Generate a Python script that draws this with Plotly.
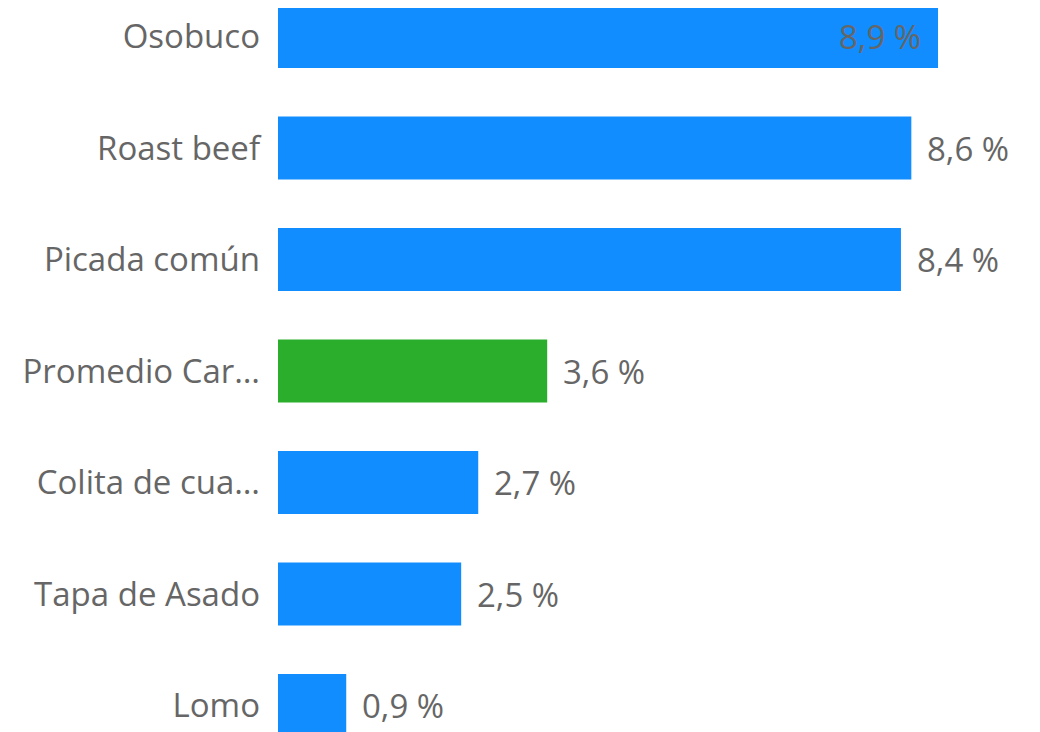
import plotly.graph_objects as go

categories = ["Osobuco", "Roast beef", "Picada común", "Promedio Car…",
              "Colita de cua…", "Tapa de Asado", "Lomo"]
values = [8.9, 8.54, 8.4, 3.63, 2.7, 2.47, 0.92]
labels = ["8,9 %", "8,6 %", "8,4 %", "3,6 %", "2,7 %", "2,5 %", "0,9 %"]
colors = ["#118DFF", "#118DFF", "#118DFF", "#2BAE2B", "#118DFF", "#118DFF", "#118DFF"]

FONT = "Open Sans"
TXT = "#666666"
FS = 33
XMAX = 10.275

pos = list(range(len(categories)))

fig = go.Figure(go.Bar(
    x=values, y=pos, orientation="h",
    marker=dict(color=colors, line=dict(width=0)),
    width=0.565, hoverinfo="skip",
))

ann = []
for v, p, t in zip(values, pos, labels):
    inside = v > XMAX - 1.6
    ann.append(dict(
        x=v, y=p, xref="x", yref="y", text=t, showarrow=False,
        xanchor="right" if inside else "left",
        xshift=-15 if inside else 14,
        font=dict(family=FONT, size=FS, color=TXT),
    ))

fig.update_layout(
    width=1032, height=724,
    margin=dict(l=270, r=0, t=0, b=0),
    paper_bgcolor="white", plot_bgcolor="white",
    showlegend=False,
    annotations=ann,
    xaxis=dict(range=[0, XMAX], visible=False, fixedrange=True),
    yaxis=dict(
        range=[6.2377, -0.2556], tickvals=pos, ticktext=categories,
        showgrid=False, zeroline=False, showline=False, ticks="",
        ticklabelstandoff=17,
        tickfont=dict(family=FONT, size=FS, color=TXT),
    ),
)

fig.write_html("out.html")
